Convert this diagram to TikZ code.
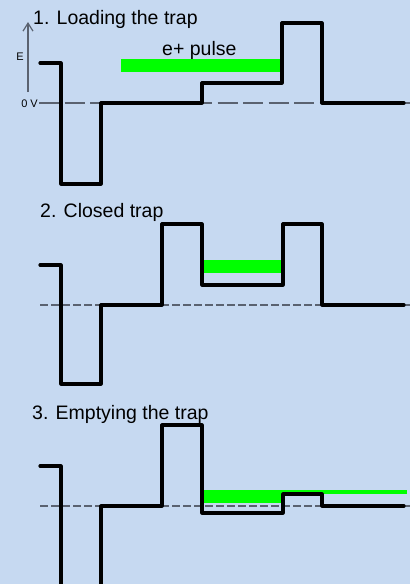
\documentclass[tikz,border=0pt]{standalone}
\usepackage{fontspec}
\setmainfont{Liberation Sans}
\usetikzlibrary{arrows.meta}
\definecolor{bgblue}{HTML}{C6D9F1}
\definecolor{levelgray}{HTML}{5A6270}
\definecolor{pulsegreen}{HTML}{00FF00}
\tikzset{
  profile/.style={line width=3.2pt, line join=round, line cap=round, black},
  zeroline/.style={line width=1.4pt, levelgray},
  wideline/.style={zeroline, dash pattern=on 20pt off 5.5pt},
  fineline/.style={zeroline, dash pattern=on 8pt off 3pt},
  bunch/.style={fill=pulsegreen, draw=none},
  title/.style={anchor=base west, inner sep=0pt, font=\fontsize{19.5}{22}\selectfont},
  small/.style={inner sep=0pt, font=\fontsize{11}{13}\selectfont},
  axis/.style={line width=1.2pt, levelgray, -{Straight Barb[length=8pt,width=10pt]}}
}
\begin{document}
\begin{tikzpicture}[x=1pt,y=-1pt]
  \fill[bgblue] (0,0) rectangle (410,584);
  \useasboundingbox (0,0) rectangle (410,584);

  % ---------- 1. Loading the trap ----------
  \node[title] (t1) at (33,24) {1. Loading the trap};
  \coordinate (ebot) at (28,92);
  \coordinate (etop) at (28,22);
  \draw[axis] (ebot) -- (etop);
  \node[small, anchor=base] (elab) at (20,60) {E};
  \node[small, anchor=base east] (zlab) at (38,107) {0 V};
  \draw[wideline] (39,103) -- (410,103);
  \fill[bunch] (121,59) rectangle (280,72);
  \node[anchor=base west, inner sep=0pt, font=\fontsize{19.5}{22}\selectfont] (pulse) at (162,55) {e+ pulse};
  \draw[profile] (40,63) -- (61,63) -- (61,184) -- (101,184) -- (101,103)
    -- (202,103) -- (202,83) -- (282,83) -- (282,23) -- (322,23)
    -- (322,103) -- (404,103);

  % ---------- 2. Closed trap ----------
  \node[title] (t2) at (40,217) {2. Closed trap};
  \draw[fineline] (40,305) -- (410,305);
  \fill[bunch] (202,260) rectangle (282,273);
  \draw[profile] (40,265) -- (61,265) -- (61,384) -- (101,384) -- (101,305)
    -- (162,305) -- (162,224) -- (202,224) -- (202,285) -- (283,285)
    -- (283,224) -- (322,224) -- (322,305) -- (404,305);

  % ---------- 3. Emptying the trap ----------
  \node[title] (t3) at (32,419) {3. Emptying the trap};
  \draw[fineline] (40,506) -- (410,506);
  \fill[bunch] (203,490) rectangle (282,503);
  \fill[bunch] (281,490) rectangle (407,494);
  \draw[profile] (40,466) -- (61,466) -- (61,594);
  \draw[profile] (101,594) -- (101,506) -- (162,506) -- (162,425)
    -- (202,425) -- (202,513) -- (283,513) -- (283,494) -- (322,494)
    -- (322,506) -- (404,506);
\end{tikzpicture}
\end{document}
